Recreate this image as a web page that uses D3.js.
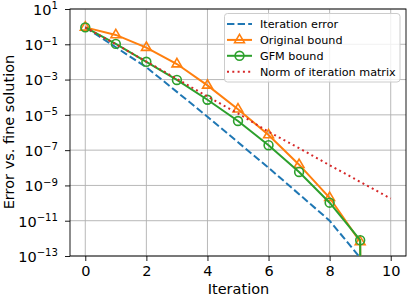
<!DOCTYPE html>
<html><head><meta charset="utf-8">
<script src="https://cdn.jsdelivr.net/npm/d3@7"></script>
<style>
html,body{margin:0;padding:0;background:#fff;}
svg{display:block;font-family:"DejaVu Sans",sans-serif;}
</style></head>
<body><svg id="c" width="407" height="296"></svg>
<script>
const iterations = [0,1,2,3,4,5,6,7,8,9,10];
const iterationError = [0.91, 6.8e-2, 5.0e-3, 2.0e-4, 7.9e-6, 2.8e-7, 1.0e-8, 3.2e-10, 1.0e-11, 8.0e-14, 0];
const originalBound = [0.91, 0.34, 6.5e-2, 7.6e-3, 4.7e-4, 2.1e-5, 7.2e-7, 1.5e-8, 2.0e-10, 6.3e-13, 0];
const gfmBound = [0.91, 0.105, 1.02e-2, 9.5e-4, 7.2e-5, 4.5e-6, 1.9e-7, 5.8e-9, 1.05e-10, 7.9e-13, 0];
const normIterMatrix = [0.91, 0.1, 1.05e-2, 1.1e-3, 1.1e-4, 1.2e-5, 1.1e-6, 1.3e-7, 1.4e-8, 1.6e-9, 1.8e-10];
const xTicks = [0,2,4,6,8,10];
const yTickExps = [1,-1,-3,-5,-7,-9,-11,-13];
const legendLabels = ["Iteration error","Original bound","GFM bound","Norm of iteration matrix"];

const svg = d3.select("#c");
const L = 70, R = 406, T = 9, B = 256;
const x = d3.scaleLinear().domain([-0.5,10.5]).range([L,R]);
const y = d3.scaleLog().domain([1e-13,1e1]).range([B,T]);
const clipV = v => v > 0 ? v : 1e-300;

svg.append("clipPath").attr("id","clip").append("rect")
  .attr("x",L).attr("y",T).attr("width",R-L).attr("height",B-T);

// grid
const grid = svg.append("g");
xTicks.forEach(t => grid.append("line").attr("x1",x(t)).attr("x2",x(t)).attr("y1",T).attr("y2",B)
  .attr("stroke","#b0b0b0").attr("stroke-width",0.9));
yTickExps.forEach(e => grid.append("line").attr("x1",L).attr("x2",R).attr("y1",y(Math.pow(10,e))).attr("y2",y(Math.pow(10,e)))
  .attr("stroke","#b0b0b0").attr("stroke-width",0.9));

const fs = 14.5;
// x axis
const xAxis = svg.append("g").attr("transform",`translate(0,${B})`)
  .call(d3.axisBottom(x).tickValues(xTicks).tickSize(5).tickPadding(5).tickFormat(d3.format("d")));
xAxis.select(".domain").remove();
xAxis.selectAll("text").attr("font-size",fs).attr("font-family","DejaVu Sans").attr("fill","#000");
xAxis.selectAll("line").attr("stroke","#000").attr("stroke-width",0.9);

// y axis
const yAxis = svg.append("g").attr("transform",`translate(${L},0)`)
  .call(d3.axisLeft(y).tickValues(yTickExps.map(e=>Math.pow(10,e))).tickSize(5).tickPadding(7).tickFormat(()=>""));
yAxis.select(".domain").remove();
yAxis.selectAll("line").attr("stroke","#000").attr("stroke-width",0.9);
yAxis.selectAll("text").each(function(d){
  const e = Math.round(Math.log10(d));
  const t = d3.select(this).attr("font-family","DejaVu Sans").attr("fill","#000").attr("dy",null)
    .attr("y", 5.3).attr("font-size",fs);
  t.append("tspan").text("10");
  t.append("tspan").attr("font-size",fs*0.7).attr("dy",-5.5).text(String(e).replace("-","\u2212"));
});

// spines
svg.append("rect").attr("x",L).attr("y",T).attr("width",R-L).attr("height",B-T)
  .attr("fill","none").attr("stroke","#000").attr("stroke-width",0.9);

// axis labels
svg.append("text").attr("x",(L+R)/2+0.5).attr("y",293.5).attr("text-anchor","middle")
  .attr("font-size",fs).text("Iteration");
svg.append("text").attr("transform","translate(13.5,132) rotate(-90)").attr("text-anchor","middle")
  .attr("font-size",fs).text("Error vs. fine solution");

// series
const plot = svg.append("g").attr("clip-path","url(#clip)");
const line = d3.line().x((d,i)=>x(iterations[i])).y(d=>y(clipV(d)));
const series = [
  {vals: iterationError, color:"#1f77b4", dash:"7.4,3.2", marker:null},
  {vals: originalBound, color:"#ff7f0e", dash:null, marker:"tri"},
  {vals: gfmBound, color:"#2ca02c", dash:null, marker:"circ"},
  {vals: normIterMatrix, color:"#d62728", dash:"2,3.3", marker:null}
];
const triPath = "M0,-5.6L4.9,2.8L-4.9,2.8Z";
function drawMarker(g, type, cx, cy, color){
  if(type==="tri") g.append("path").attr("d",triPath).attr("transform",`translate(${cx},${cy})`)
    .attr("fill","none").attr("stroke",color).attr("stroke-width",1.6);
  if(type==="circ") g.append("circle").attr("cx",cx).attr("cy",cy).attr("r",4.4)
    .attr("fill","none").attr("stroke",color).attr("stroke-width",1.6);
}
series.forEach(s=>{
  plot.append("path").datum(s.vals).attr("d",line).attr("fill","none")
    .attr("stroke",s.color).attr("stroke-width",2).attr("stroke-dasharray",s.dash);
  if(s.marker) s.vals.forEach((v,i)=>{ if(v>0) drawMarker(plot,s.marker,x(iterations[i]),y(v),s.color); });
});

// legend
const lg = svg.append("g");
lg.append("rect").attr("x",224.5).attr("y",13.5).attr("width",175.5).attr("height",68.5).attr("rx",3)
  .attr("fill","#fff").attr("fill-opacity",0.8).attr("stroke","#cccccc").attr("stroke-width",1);
legendLabels.forEach((lab,i)=>{
  const s = series[i];
  const yy = 24 + i*15.9;
  lg.append("line").attr("x1",227).attr("x2",252).attr("y1",yy).attr("y2",yy)
    .attr("stroke",s.color).attr("stroke-width",2).attr("stroke-dasharray",s.dash);
  if(s.marker) drawMarker(lg,s.marker,239.5,yy,s.color);
  lg.append("text").attr("x",260).attr("y",yy+4).attr("font-size",11.2).text(lab);
});
</script></body></html>
